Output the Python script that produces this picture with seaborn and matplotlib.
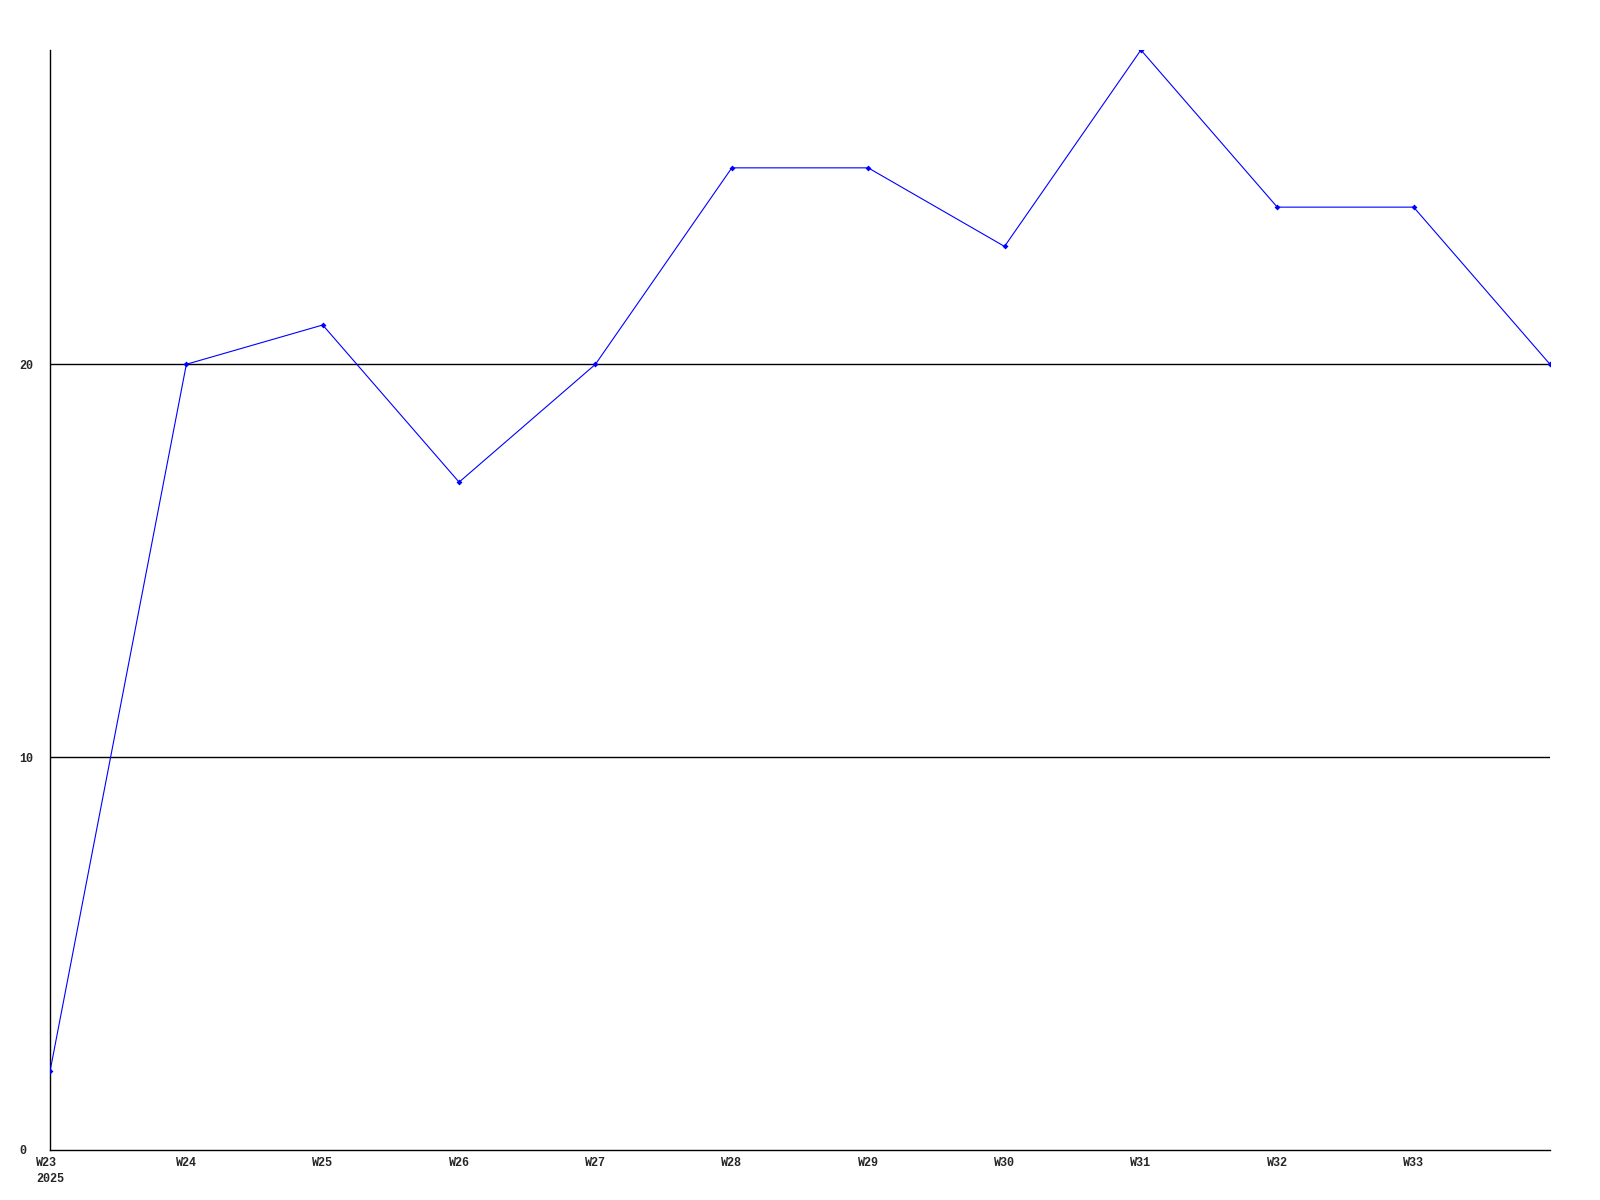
import pandas as pd
import matplotlib.pyplot as plt
import seaborn as sns

# === DATA ===
weeks = ["W23", "W24", "W25", "W26", "W27", "W28", "W29", "W30", "W31", "W32", "W33", "W34"]
values = [2, 20, 21, 17, 20, 25, 25, 23, 28, 24, 24, 20]
tick_labels = ["W23\n2025", "W24", "W25", "W26", "W27", "W28", "W29", "W30", "W31", "W32", "W33"]

df = pd.DataFrame({"idx": range(len(weeks)), "week": weeks, "value": values})

sns.set_style("white")
plt.rcParams['font.family'] = ['Liberation Mono', 'DejaVu Sans Mono']

fig = plt.figure(figsize=(16, 12), dpi=100)
ax = fig.add_axes([0.03125, 0.04167, 0.9375, 0.91667])

# grid lines at 10 and 20
for y in [10, 20]:
    ax.axhline(y, color='black', linewidth=1, zorder=1)

sns.lineplot(data=df, x="idx", y="value", ax=ax, color='#0000ff', linewidth=0.8,
             marker='D', markersize=3, markeredgewidth=0, zorder=3)

ax.set_xlim(0, len(weeks) - 1)
ax.set_ylim(0, 28)
ax.set_xticks(range(len(tick_labels)))
ax.set_xticklabels(tick_labels, fontsize=8.5, fontweight='bold', ha='center',
                   multialignment='left', linespacing=1.5)
ax.set_yticks([0, 10, 20])
ax.set_yticklabels(["0", "10", "20"], fontsize=8.5, fontweight='bold', ha='left')
ax.tick_params(axis='y', length=0, pad=22)
ax.tick_params(axis='x', length=0, pad=5)
ax.set_xlabel("")
ax.set_ylabel("")

for s in ['top', 'right']:
    ax.spines[s].set_visible(False)
for s in ['left', 'bottom']:
    ax.spines[s].set_color('black')
    ax.spines[s].set_linewidth(1)

plt.savefig("out.png", dpi=100)
plt.close()
